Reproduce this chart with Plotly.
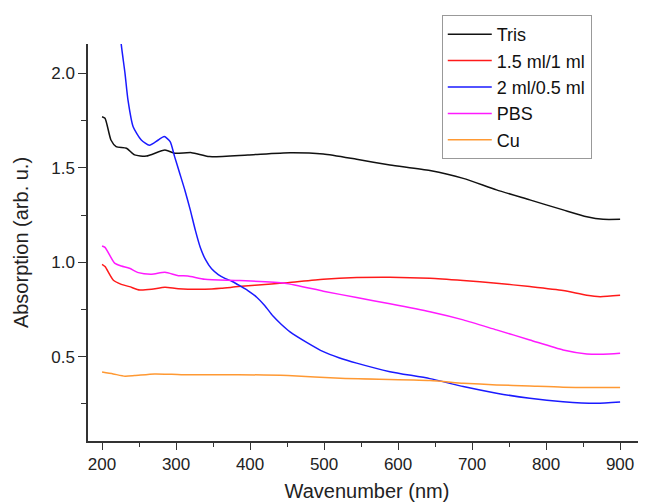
import plotly.graph_objects as go

tris_x = [200, 204, 212, 219, 233, 244, 260, 285, 298, 321, 345, 397, 454, 499, 544, 589, 643, 688, 733, 778, 823, 855, 877, 900]
tris_y = [1.770, 1.762, 1.647, 1.612, 1.603, 1.568, 1.562, 1.594, 1.577, 1.580, 1.559, 1.568, 1.580, 1.573, 1.545, 1.515, 1.485, 1.444, 1.383, 1.330, 1.277, 1.241, 1.227, 1.227]

blue_x = [200, 210, 220, 226, 231, 235, 242, 253, 264, 276, 284, 292, 298, 305, 312, 319, 326, 333, 340, 348, 357, 366, 376, 386, 397, 409, 420, 431, 442, 454, 477, 499, 520, 544, 589, 643, 688, 733, 778, 823, 868, 900]
blue_y = [3.3, 2.8, 2.4, 2.15, 2.0, 1.859, 1.717, 1.647, 1.619, 1.647, 1.665, 1.638, 1.559, 1.47, 1.38, 1.28, 1.17, 1.075, 1.012, 0.965, 0.935, 0.915, 0.898, 0.876, 0.850, 0.815, 0.770, 0.715, 0.672, 0.632, 0.575, 0.527, 0.495, 0.466, 0.421, 0.384, 0.342, 0.307, 0.280, 0.262, 0.254, 0.261]

red_x = [200, 204, 215, 226, 237, 251, 267, 285, 303, 339, 361, 384, 429, 451, 499, 544, 589, 643, 688, 733, 778, 823, 855, 873, 900]
red_y = [0.989, 0.977, 0.906, 0.883, 0.871, 0.853, 0.857, 0.868, 0.860, 0.857, 0.862, 0.871, 0.885, 0.892, 0.910, 0.919, 0.921, 0.915, 0.903, 0.889, 0.871, 0.850, 0.825, 0.818, 0.825]

pbs_x = [200, 204, 217, 226, 237, 249, 267, 285, 303, 316, 339, 386, 447, 499, 544, 589, 643, 688, 733, 778, 823, 855, 877, 900]
pbs_y = [1.086, 1.079, 0.995, 0.980, 0.968, 0.945, 0.937, 0.947, 0.929, 0.927, 0.910, 0.903, 0.889, 0.847, 0.813, 0.780, 0.738, 0.695, 0.642, 0.589, 0.536, 0.515, 0.513, 0.518]

cu_x = [200, 215, 231, 244, 271, 294, 316, 361, 384, 451, 522, 643, 688, 733, 778, 823, 900]
cu_y = [0.419, 0.409, 0.397, 0.400, 0.409, 0.407, 0.404, 0.405, 0.405, 0.400, 0.386, 0.374, 0.360, 0.351, 0.345, 0.339, 0.337]

series = [
    ("Tris", tris_x, tris_y, "#111111"),
    ("1.5 ml/1 ml", red_x, red_y, "#ff1a1a"),
    ("2 ml/0.5 ml", blue_x, blue_y, "#1a1aff"),
    ("PBS", pbs_x, pbs_y, "#ff1aff"),
    ("Cu", cu_x, cu_y, "#ff9933"),
]

fig = go.Figure()
for name, xs, ys, col in series:
    fig.add_trace(go.Scatter(x=xs, y=ys, name=name, mode="lines",
                             line=dict(color=col, width=1.5, shape="spline", smoothing=0.6)))

font_family = "Liberation Sans, Arial, sans-serif"
# page body has an 8px default margin: figure origin is at (8, 8) in the page
fig.update_layout(
    width=638, height=494,
    margin=dict(l=80, r=0, t=36, b=61, autoexpand=False),
    paper_bgcolor="white", plot_bgcolor="white",
    font=dict(family=font_family, color="#222"),
    showlegend=True,
    legend=dict(x=0.634, y=1.073, xanchor="left", yanchor="top",
                bgcolor="white", bordercolor="#999", borderwidth=1,
                itemwidth=44,
                font=dict(size=18, family=font_family, color="#111"),
                tracegroupgap=0),
    xaxis=dict(range=[181, 935], showgrid=False, zeroline=False, automargin=False,
               showline=True, linecolor="#333", linewidth=1.5, mirror=False,
               ticks="outside", ticklen=7, tickwidth=1.2, tickcolor="#333",
               tickvals=[200, 300, 400, 500, 600, 700, 800, 900],
               tickfont=dict(size=17),
               minor=dict(tickvals=[250, 350, 450, 550, 650, 750, 850], ticks="outside",
                          ticklen=4, tickwidth=1.2, tickcolor="#333"),
               title=dict(text="Wavenumber (nm)", font=dict(size=20), standoff=11)),
    yaxis=dict(range=[0.054, 2.155], showgrid=False, zeroline=False, automargin=False,
               showline=True, linecolor="#333", linewidth=1.5, mirror=False,
               ticks="outside", ticklen=8, tickwidth=1.2, tickcolor="#333",
               tickvals=[0.5, 1.0, 1.5, 2.0], ticktext=["0.5", "1.0", "1.5", "2.0"],
               tickfont=dict(size=17),
               minor=dict(tickvals=[0.25, 0.75, 1.25, 1.75], ticks="outside",
                          ticklen=5, tickwidth=1.2, tickcolor="#333"),
               title=dict(text="Absorption (arb. u.)", font=dict(size=20), standoff=17)),
)

fig.write_html("out.html")
